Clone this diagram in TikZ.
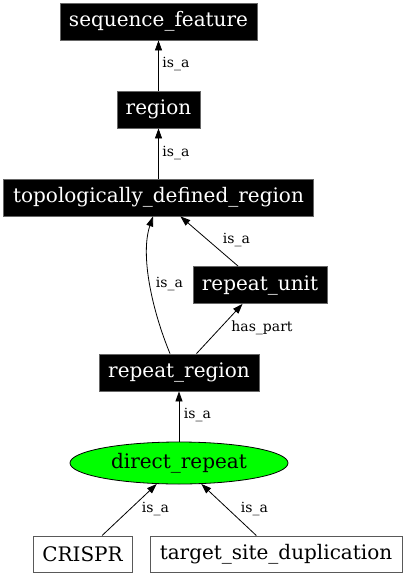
\documentclass[tikz,border=0pt]{standalone}
\usepackage{fontspec}
\setmainfont{DejaVu Serif}
\usetikzlibrary{arrows.meta,shapes.geometric,calc}
\begin{document}
\begin{tikzpicture}[x=1pt,y=-1pt,
  blackbox/.style={rectangle,fill=black,draw=black!60,line width=0.8pt,text=white,inner sep=0pt,minimum height=37pt,font=\fontsize{20}{24}\selectfont},
  whitebox/.style={rectangle,fill=white,draw=black!65,line width=1pt,text=black,inner sep=0pt,minimum height=36pt,font=\fontsize{20}{24}\selectfont},
  greenell/.style={ellipse,fill=green,draw=black,line width=0.8pt,inner sep=0pt,minimum width=218pt,minimum height=42pt,font=\fontsize{20}{24}\selectfont},
  lbl/.style={inner sep=0pt,font=\fontsize{14}{16}\selectfont},
  edge/.style={draw=black,line width=0.8pt,-{Triangle[length=10pt,width=7pt]}}]
\useasboundingbox (0,0) rectangle (406,576);
% nodes
\node[blackbox,minimum width=197pt] (sf) at (158.5,21.5) {sequence\_feature};
\node[blackbox,minimum width=83pt] (reg) at (158.5,109.5) {region};
\node[blackbox,minimum width=310pt] (topo) at (158.5,197.5) {topologically\_defined\_region};
\node[blackbox,minimum width=134pt] (ru) at (260,285) {repeat\_unit};
\node[blackbox,minimum width=160pt] (rr) at (179,372.5) {repeat\_region};
\node[greenell] (dr) at (179,463) {direct\_repeat};
\node[whitebox,minimum width=99pt] (cr) at (82.5,554) {CRISPR};
\node[whitebox,minimum width=252pt] (tsd) at (276,554) {target\_site\_duplication};
% edges
\draw[edge] (reg) -- (sf);
\draw[edge] (topo) -- (reg);
\draw[edge] (ru) -- (topo);
\coordinate (cs) at ($(rr.north)+(-9,0)$);
\coordinate (ce) at ($(topo.south)+(-5.5,0)$);
\draw[edge] (cs) .. controls (152,310) and (140,255) .. (ce);
\draw[edge] (rr) -- (ru);
\draw[edge] (dr) -- (rr);
\draw[edge] (cr) -- (dr);
\draw[edge] (tsd) -- (dr);
% labels
\node[lbl] (l1) at (176,64) {is\_a};
\node[lbl] (l2) at (176,153) {is\_a};
\node[lbl] (l3) at (236.5,240) {is\_a};
\node[lbl] (l4) at (169.5,284) {is\_a};
\node[lbl] (l5) at (262,328) {has\_part};
\node[lbl] (l6) at (197.5,415) {is\_a};
\node[lbl] (l7) at (155.5,509) {is\_a};
\node[lbl] (l8) at (254.5,509) {is\_a};
\end{tikzpicture}
\end{document}
